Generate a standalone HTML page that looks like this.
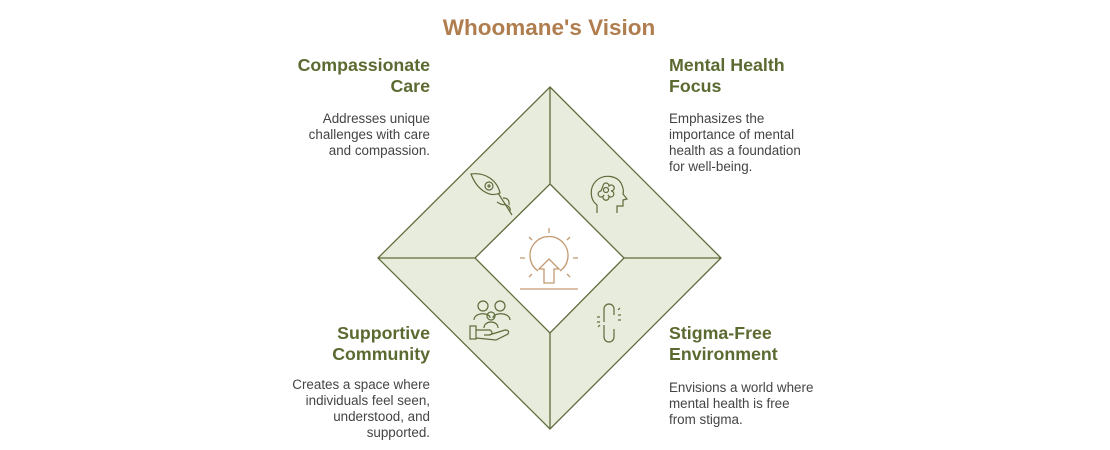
<!DOCTYPE html>
<html><head><meta charset="utf-8"><style>
html,body{margin:0;padding:0;background:#fff;}
body{width:1110px;height:450px;overflow:hidden;position:relative;font-family:"Liberation Sans",sans-serif;}
svg{position:absolute;left:0;top:0;}
</style></head><body>
<svg width="1110" height="450" viewBox="0 0 1110 450" font-family="Liberation Sans, sans-serif">
<text x="549" y="35" text-anchor="middle" font-size="22.5" font-weight="bold" fill="#b07d4f">Whoomane's Vision</text>

<g font-size="17.8" font-weight="bold" fill="#5b6a30">
<text x="430" y="71" text-anchor="end">Compassionate</text>
<text x="430" y="92" text-anchor="end">Care</text>
<text x="669" y="71">Mental Health</text>
<text x="669" y="92">Focus</text>
<text x="430" y="339" text-anchor="end">Supportive</text>
<text x="430" y="360" text-anchor="end">Community</text>
<text x="669" y="339">Stigma-Free</text>
<text x="669" y="360">Environment</text>
</g>
<g font-size="13.4" fill="#444">
<text x="430" y="123" text-anchor="end">Addresses unique</text>
<text x="430" y="139" text-anchor="end">challenges with care</text>
<text x="430" y="155" text-anchor="end">and compassion.</text>
<text x="669" y="123">Emphasizes the</text>
<text x="669" y="139">importance of mental</text>
<text x="669" y="155">health as a foundation</text>
<text x="669" y="171">for well-being.</text>
<text x="430" y="389" text-anchor="end">Creates a space where</text>
<text x="430" y="405" text-anchor="end">individuals feel seen,</text>
<text x="430" y="421" text-anchor="end">understood, and</text>
<text x="430" y="437" text-anchor="end">supported.</text>
<text x="669" y="392">Envisions a world where</text>
<text x="669" y="408">mental health is free</text>
<text x="669" y="424">from stigma.</text>
</g>

<g stroke="#5f6b3a" stroke-width="1.3" fill="#e7ecdc">
<polygon points="550,87 721,258 550,429 378,258"/>
<polygon points="550,184 624,258 550,333 475,258" fill="#fff"/>
<line x1="550" y1="87" x2="550" y2="184"/>
<line x1="378" y1="258" x2="475" y2="258"/>
<line x1="721" y1="258" x2="624" y2="258"/>
<line x1="550" y1="429" x2="550" y2="333"/>
</g>

<!-- sun icon -->
<g stroke="#c49a72" stroke-width="1.3" fill="none">
<path d="M538,271 A19,19 0 1 1 560,271"/>
<path d="M549,259 L559,269 L554,269 L554,283 L544,283 L544,269 L539,269 Z"/>
<line x1="520" y1="289" x2="578" y2="289"/>
<line x1="549" y1="228" x2="549" y2="233"/>
<line x1="529" y1="237" x2="532" y2="240"/>
<line x1="570" y1="237" x2="567" y2="240"/>
<line x1="520" y1="258" x2="525" y2="258"/>
<line x1="573" y1="258" x2="578" y2="258"/>
<line x1="529" y1="277" x2="532" y2="274"/>
<line x1="570" y1="277" x2="567" y2="274"/>
</g>

<!-- leaf icon -->
<g stroke="#5f6b3a" stroke-width="1.2" fill="none">
<path d="M471,174 C485,172 497,180 500,193 C490,198 477,190 471,174 Z"/>
<circle cx="489" cy="186" r="4"/><circle cx="489" cy="186" r="1"/>
<line x1="498" y1="193" x2="512" y2="215"/>
<path d="M503,198 Q510,198 509,205"/>
<path d="M497,202 Q503,206 506,204"/>
<path d="M506,205 Q511,207 510,211"/>
</g>

<!-- head icon -->
<g stroke="#5f6b3a" stroke-width="1.2" fill="none">
<path d="M597,213 L597,205 C590,200 589,188 596,181 C603,174 616,175 621,183 C623,187 624,191 623,194 L627,199 L623,200 L623,206 L617,206 L617,213"/>
<circle cx="606" cy="190" r="2.5"/>
<path d="M603,186 a3,3 0 1 1 6,0 a3,3 0 1 1 2,5 a3,3 0 1 1 -3,4 a3,3 0 1 1 -4,0 a3,3 0 1 1 -3,-4 z"/>
</g>

<!-- community icon -->
<g stroke="#5f6b3a" stroke-width="1.2" fill="none">
<circle cx="483" cy="306" r="5"/><circle cx="500" cy="306" r="5"/><circle cx="491" cy="316" r="4"/>
<path d="M474,320 C474,312 490,312 490,318"/>
<path d="M493,318 C493,312 510,312 510,320"/>
<path d="M484,328 C484,320 498,320 498,328"/>
<rect x="470" y="326" width="6" height="13"/>
<path d="M476,330 L490,330 Q494,333 490,335 L484,335 M489,335 L505,330 Q510,330 508,334 L496,340 L476,338"/>
</g>

<!-- chain icon -->
<g stroke="#5f6b3a" stroke-width="1.2" fill="none">
<path d="M604,322 L604,309 a5,5 0 0 1 10,0 L614,315"/>
<path d="M614,329 L614,337 a5,5 0 0 1 -10,0 L604,325"/>
<line x1="597" y1="317" x2="600" y2="317"/><line x1="597" y1="322" x2="600" y2="322"/>
<line x1="618" y1="315" x2="621" y2="315"/><line x1="618" y1="320" x2="621" y2="320"/>
<line x1="598" y1="327" x2="600" y2="325"/><line x1="620" y1="308" x2="618" y2="310"/>
</g>
</svg>
</body></html>
